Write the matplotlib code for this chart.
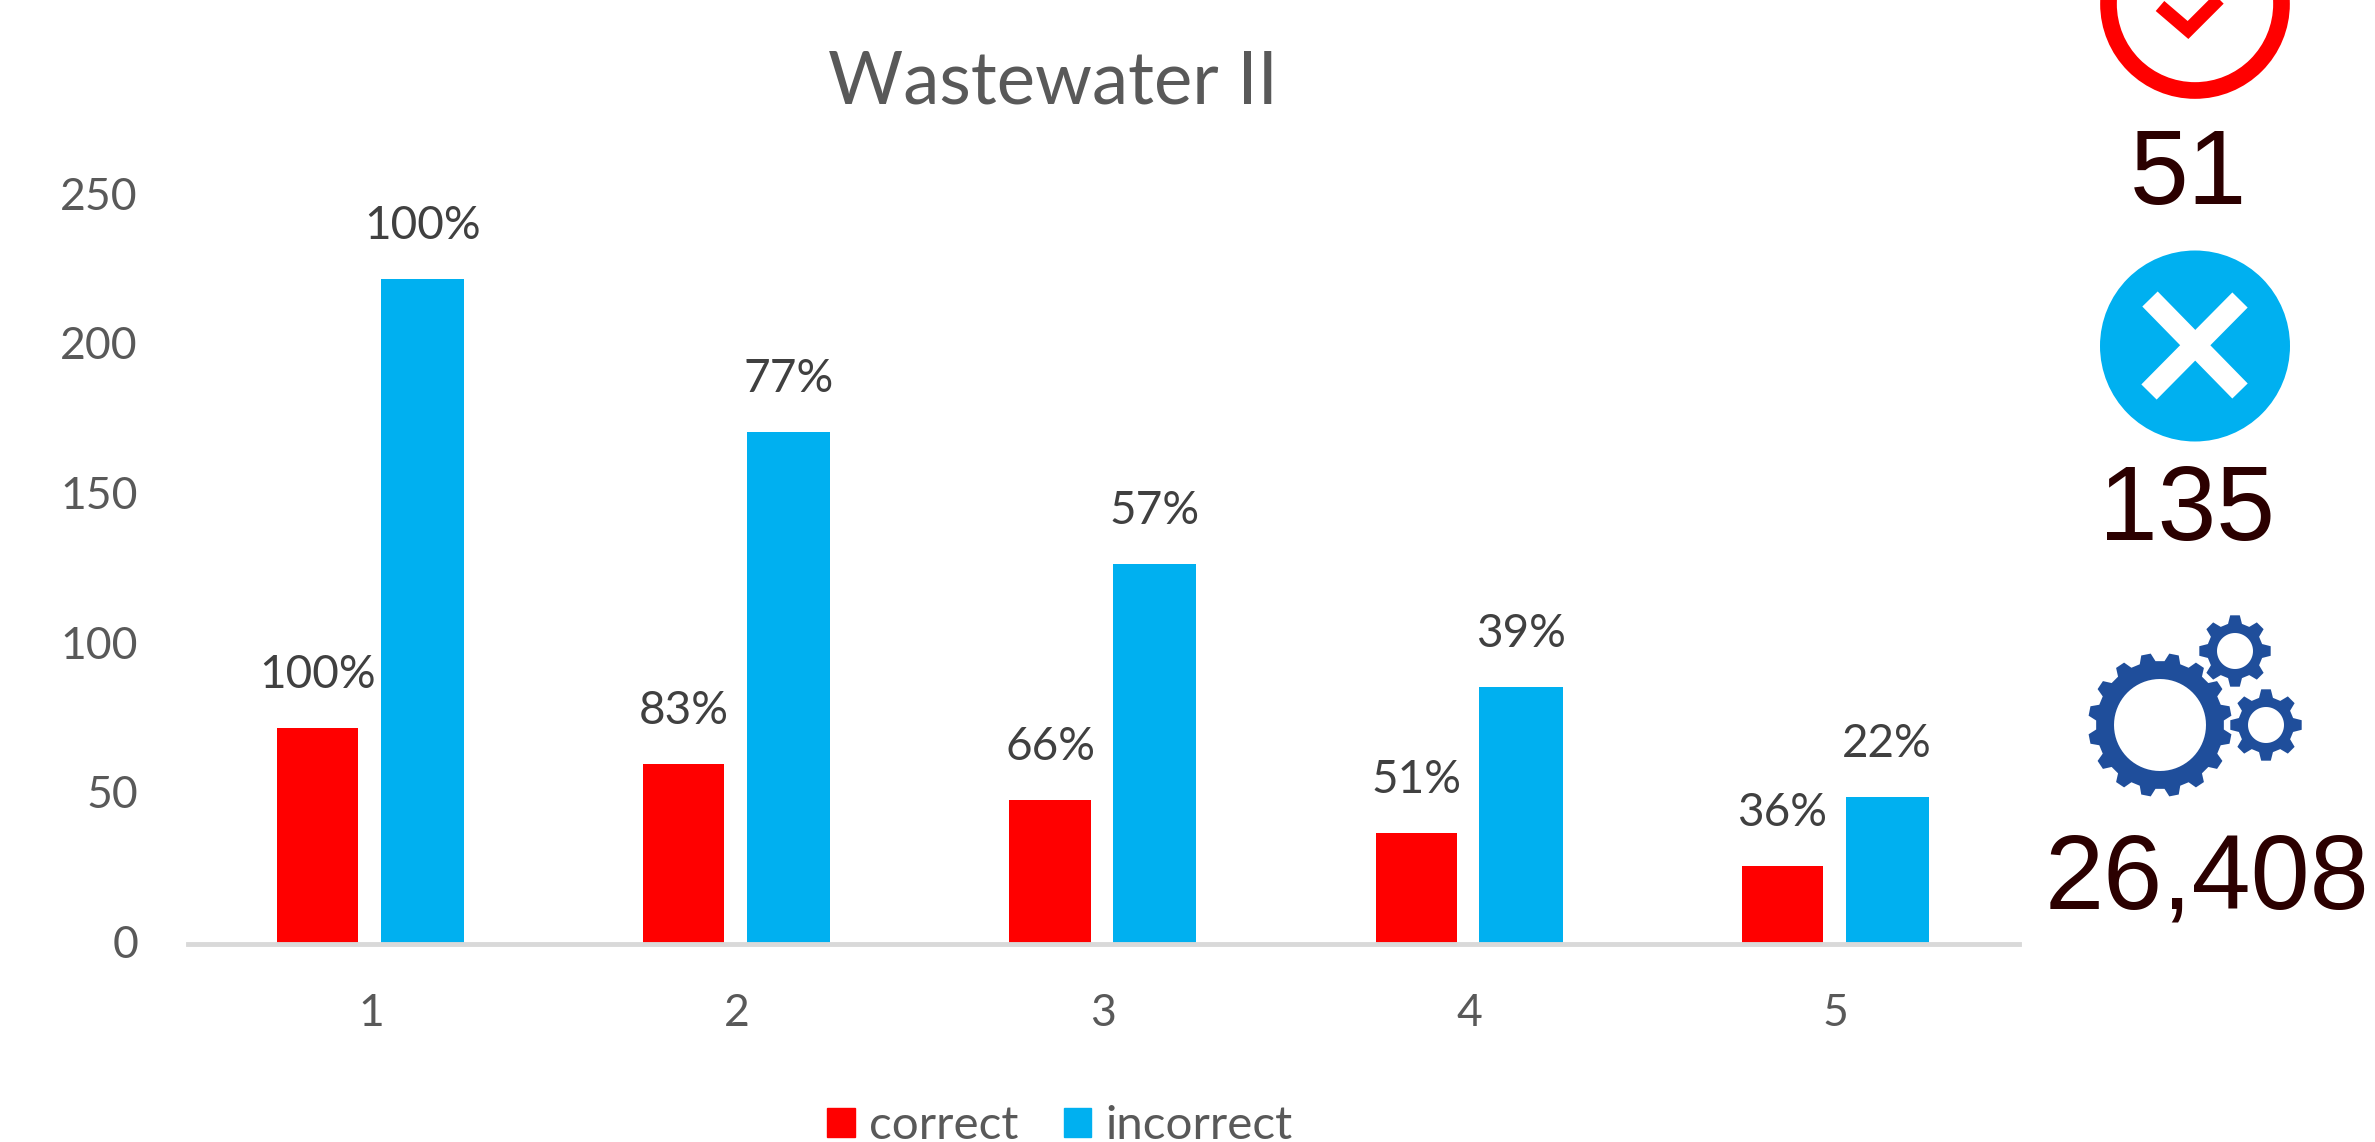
import matplotlib
matplotlib.use("Agg")
import matplotlib.pyplot as plt
import numpy as np
from matplotlib.patches import Ellipse, Patch, PathPatch
from matplotlib.path import Path
from matplotlib.transforms import ScaledTranslation

WIDTH_PX = 2375
HEIGHT_PX = 1142

ROUNDS = [1, 2, 3, 4, 5]
CORRECT = [72, 60, 48, 37, 26]
INCORRECT = [222, 171, 127, 86, 49]
CORRECT_PCT = ["100%", "83%", "66%", "51%", "36%"]
INCORRECT_PCT = ["100%", "77%", "57%", "39%", "22%"]
Y_TICKS = [0, 50, 100, 150, 200, 250]
TITLE = "Wastewater II"
SERIES_NAMES = ["correct", "incorrect"]
TALLY_CORRECT = "51"
TALLY_INCORRECT = "135"
TALLY_TOTAL = "26,408"

RED = "#FF0000"
BLUE = "#00B0F0"
GEAR_BLUE = "#1F4E9B"
DARK = "#2B0000"

plt.rcParams["font.family"] = ["Lato", "DejaVu Sans"]


# ----------------------------------------------------------------------------------------------------
def gear_path(cx, cy, r_outer, r_root, r_hole, teeth, phase):
    # outline made of trapezoid teeth, with the hole wound the other way
    pts = []
    step = 2 * np.pi / teeth
    for i in range(teeth):
        a = phase + i * step
        pts.append((a - 0.32 * step, r_root))
        pts.append((a - 0.17 * step, r_outer))
        pts.append((a + 0.17 * step, r_outer))
        pts.append((a + 0.32 * step, r_root))
    outer = np.array([(cx + r * np.sin(a), cy - r * np.cos(a)) for a, r in pts])
    t = np.linspace(0, 2 * np.pi, 73)[::-1]
    hole = np.column_stack([cx + r_hole * np.sin(t), cy - r_hole * np.cos(t)])
    verts = np.vstack([outer, outer[:1], hole])
    codes = ([Path.MOVETO] + [Path.LINETO] * (len(outer) - 1) + [Path.CLOSEPOLY]
             + [Path.MOVETO] + [Path.LINETO] * (len(hole) - 1))
    return Path(verts, codes)


# ----------------------------------------------------------------------------------------------------
def draw_tally(fig):
    # right hand column, laid out in pixels with y going down
    ov = fig.add_axes([0, 0, 1, 1], facecolor="none")
    ov.set_xlim(0, WIDTH_PX)
    ov.set_ylim(HEIGHT_PX, 0)
    ov.axis("off")

    ov.add_patch(Ellipse((2195, 4), 173, 173, fc="none", ec=RED, lw=12))
    ov.plot([2160, 2188, 2240], [6, 30, -22], c=RED, lw=9.5, solid_joinstyle="miter", solid_capstyle="butt")

    ov.add_patch(Ellipse((2195, 346), 190, 191, fc=BLUE, ec="none"))
    ov.plot([2150, 2240], [299, 391], c="white", lw=15.5, solid_capstyle="butt")
    ov.plot([2240, 2149], [300, 392], c="white", lw=15.5, solid_capstyle="butt")

    for spec in [(2160, 725, 72, 64, 46, 16, np.pi / 16),
                 (2235, 651, 36, 28, 18, 8, 0),
                 (2266, 725, 36, 28, 18, 8, 0)]:
        ov.add_patch(PathPatch(gear_path(*spec), fc=GEAR_BLUE, ec="none"))

    big = dict(family="Liberation Sans", fontsize=76, color=DARK, ha="center", va="baseline")
    ov.text(2188, 204, TALLY_CORRECT, **big)
    ov.text(2187, 540, TALLY_INCORRECT, **big)
    ov.text(2207, 909, TALLY_TOTAL, family="Liberation Sans", fontsize=76.5, color=DARK, ha="center", va="baseline")


# ----------------------------------------------------------------------------------------------------
def plot_rounds():

    fig = plt.figure(figsize=(WIDTH_PX / 100, HEIGHT_PX / 100), dpi=100, facecolor="white")
    ax = fig.add_axes([188 / WIDTH_PX, 1 - 944 / HEIGHT_PX, (2019 - 188) / WIDTH_PX, (944 - 195.5) / HEIGHT_PX])

    x = np.array(ROUNDS)
    red = ax.bar(x - 0.146, CORRECT, width=0.222, color=RED)
    blue = ax.bar(x + 0.140, INCORRECT, width=0.227, color=BLUE)
    ax.bar_label(red, labels=CORRECT_PCT, padding=23, fontsize=33, color="#404040")
    ax.bar_label(blue, labels=INCORRECT_PCT, padding=23, fontsize=33, color="#404040")

    ax.set_xlim(0.5, 5.5)
    ax.set_ylim(0, 250)
    ax.set_xticks(x)
    ax.set_yticks(Y_TICKS)
    ax.tick_params(length=0, labelsize=32, labelcolor="#595959")
    ax.tick_params(axis="x", pad=35)
    ax.tick_params(axis="y", pad=36)

    # nudge the value labels up a little
    nudge = ScaledTranslation(0, 2.5 / 100, fig.dpi_scale_trans)
    for label in ax.get_yticklabels():
        label.set_transform(label.get_transform() + nudge)

    for side in ["top", "right", "left"]:
        ax.spines[side].set_visible(False)
    ax.spines["bottom"].set_color("#D9D9D9")
    ax.spines["bottom"].set_linewidth(3.5)

    fig.text(1053 / WIDTH_PX, 1 - 83 / HEIGHT_PX, TITLE, fontsize=52.3, color="#595959", ha="center", va="center")

    handles = [Patch(color=RED), Patch(color=BLUE)]
    fig.legend(handles, SERIES_NAMES, loc="lower center", bbox_to_anchor=(1060 / WIDTH_PX, -0.042), ncol=2,
               frameon=False, fontsize=34.2, labelcolor="#595959", handlelength=0.58, handleheight=0.58,
               handletextpad=0.3, columnspacing=0.95)

    draw_tally(fig)
    fig.savefig("out.png", dpi=100)


# ----------------------------------------------------------------------------------------------------
if __name__ == '__main__':

    plot_rounds()
